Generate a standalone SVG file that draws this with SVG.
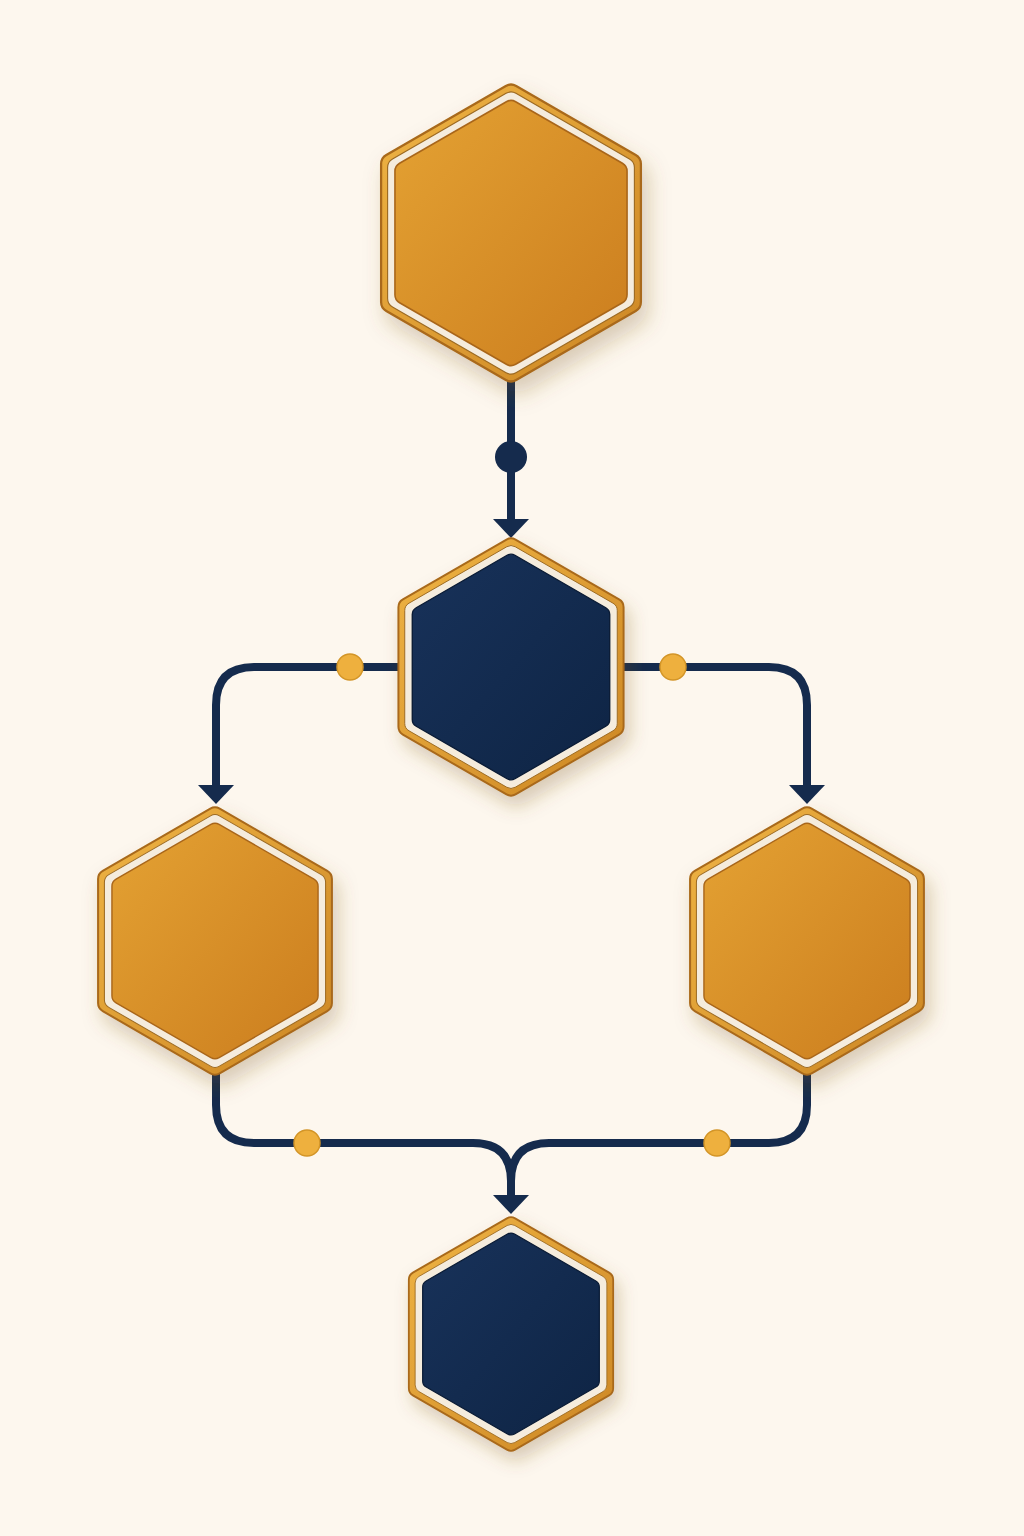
<svg xmlns="http://www.w3.org/2000/svg" xmlns:xlink="http://www.w3.org/1999/xlink" width="1024" height="1536" viewBox="0 0 1024 1536">
<defs>
  <style>
    .ring { fill: url(#ringGrad); stroke: #A9691A; stroke-width: 1.5; vector-effect: non-scaling-stroke; }
    .gap { fill: #F5ECDD; stroke: #9C6A22; stroke-width: 0.8; vector-effect: non-scaling-stroke; }
    .goldfill { fill: url(#goldGrad); stroke: #A9661A; stroke-width: 1.2; vector-effect: non-scaling-stroke; }
    .navyfill { fill: url(#navyGrad); stroke: #0A1B35; stroke-width: 1.2; vector-effect: non-scaling-stroke; }
    .wire { fill: none; stroke: #152B4D; stroke-width: 8; stroke-linecap: butt; }
    .head { fill: #152B4D; }
    .gdot { fill: #EEB03E; stroke: #D39528; stroke-width: 1.5; }
    .ndot { fill: #152B4D; }
  </style>
  <linearGradient id="ringGrad" x1="0" y1="0" x2="1" y2="1">
    <stop offset="0" stop-color="#EFB444"/>
    <stop offset="1" stop-color="#CC8624"/>
  </linearGradient>
  <linearGradient id="goldGrad" x1="0" y1="0" x2="1" y2="1">
    <stop offset="0" stop-color="#E4A233"/>
    <stop offset="1" stop-color="#CB7D1E"/>
  </linearGradient>
  <linearGradient id="navyGrad" x1="0" y1="0" x2="1" y2="1">
    <stop offset="0" stop-color="#18325A"/>
    <stop offset="1" stop-color="#0E2444"/>
  </linearGradient>
  <filter id="shadow" x="-30%" y="-30%" width="160%" height="160%">
    <feDropShadow dx="4" dy="8" stdDeviation="7" flood-color="#7A5628" flood-opacity="0.28"/>
  </filter>
  <path id="hex" d="M 3.46,-98 L 83.14,-52 Q 86.6,-50 86.6,-46 L 86.6,46 Q 86.6,50 83.14,52 L 3.46,98 Q 0,100 -3.46,98 L -83.14,52 Q -86.6,50 -86.6,46 L -86.6,-46 Q -86.6,-50 -83.14,-52 L -3.46,-98 Q 0,-100 3.46,-98 Z"/>
</defs>

<rect width="1024" height="1536" fill="#FDF7EE"/>

<g id="connectors">
  <!-- top to middle -->
  <line class="wire" x1="511" y1="380" x2="511" y2="522"/>
  <circle class="ndot" cx="511" cy="457" r="16"/>
  <polygon class="head" points="493,519 529,519 511,538"/>
  <!-- middle to left -->
  <path class="wire" d="M 400 667 H 254 Q 216 667 216 705 V 788"/>
  <circle class="gdot" cx="350" cy="667" r="13"/>
  <polygon class="head" points="198,785 234,785 216,804"/>
  <!-- middle to right -->
  <path class="wire" d="M 622 667 H 769 Q 807 667 807 705 V 788"/>
  <circle class="gdot" cx="673" cy="667" r="13"/>
  <polygon class="head" points="789,785 825,785 807,804"/>
  <!-- left to bottom -->
  <path class="wire" d="M 216 1070 V 1105 Q 216 1143 254 1143 H 473 Q 511 1143 511 1181 V 1198"/>
  <circle class="gdot" cx="307" cy="1143" r="13"/>
  <!-- right to bottom -->
  <path class="wire" d="M 807 1070 V 1105 Q 807 1143 769 1143 H 549 Q 511 1143 511 1181"/>
  <circle class="gdot" cx="717" cy="1143" r="13"/>
  <polygon class="head" points="493,1195 529,1195 511,1214"/>
</g>

<g id="node-top" transform="translate(511 233)">
  <use xlink:href="#hex" class="ring" transform="scale(1.5)" filter="url(#shadow)"/>
  <use xlink:href="#hex" class="gap" transform="scale(1.425)"/>
  <use xlink:href="#hex" class="goldfill" transform="scale(1.34)"/>
</g>

<g id="node-middle" transform="translate(511 667)">
  <use xlink:href="#hex" class="ring" transform="scale(1.3)" filter="url(#shadow)"/>
  <use xlink:href="#hex" class="gap" transform="scale(1.227)"/>
  <use xlink:href="#hex" class="navyfill" transform="scale(1.14)"/>
</g>

<g id="node-left" transform="translate(215 941)">
  <use xlink:href="#hex" class="ring" transform="scale(1.35)" filter="url(#shadow)"/>
  <use xlink:href="#hex" class="gap" transform="scale(1.277)"/>
  <use xlink:href="#hex" class="goldfill" transform="scale(1.19)"/>
</g>

<g id="node-right" transform="translate(807 941)">
  <use xlink:href="#hex" class="ring" transform="scale(1.35)" filter="url(#shadow)"/>
  <use xlink:href="#hex" class="gap" transform="scale(1.277)"/>
  <use xlink:href="#hex" class="goldfill" transform="scale(1.19)"/>
</g>

<g id="node-bottom" transform="translate(511 1334)">
  <use xlink:href="#hex" class="ring" transform="scale(1.18)" filter="url(#shadow)"/>
  <use xlink:href="#hex" class="gap" transform="scale(1.107)"/>
  <use xlink:href="#hex" class="navyfill" transform="scale(1.02)"/>
</g>
</svg>
